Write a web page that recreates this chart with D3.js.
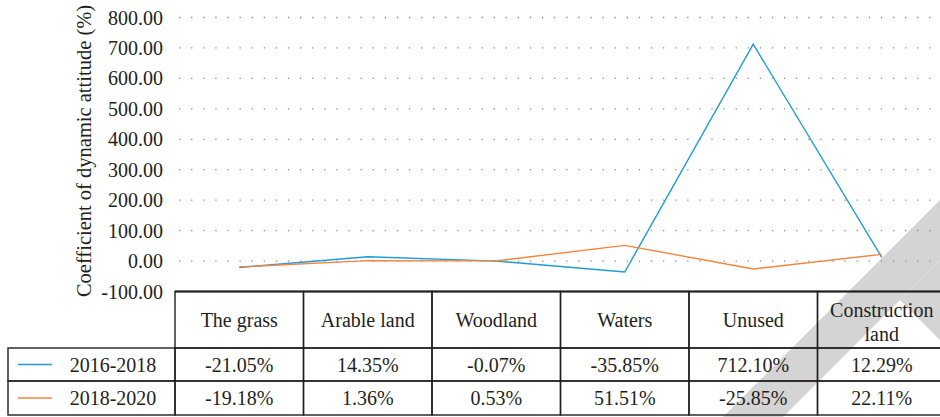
<!DOCTYPE html>
<meta charset="utf-8">
<style>
body { margin: 0; background: #fff; }
svg { display: block; font-family: "Liberation Serif", "DejaVu Serif", serif; }
.grid line { stroke: #8a8a8a; stroke-width: 1.3px; stroke-dasharray: 1.3,10.8; }
.tick-label { font-size: 20px; fill: #231f20; text-anchor: end; }
.cell { fill: none; stroke: #231f20; stroke-width: 1.4px; }
.cell-text { font-size: 20px; fill: #231f20; text-anchor: middle; }
.line { fill: none; stroke-width: 1.4px; }
.mark { fill: #d4d4d4; }
</style>
<svg width="940" height="417"></svg>
<script src="https://cdnjs.cloudflare.com/ajax/libs/d3/7.8.5/d3.min.js"></script>
<script>

// data
var categories = ["The grass", "Arable land", "Woodland", "Waters", "Unused", "Construction land"];
var seriesNames = ["2016-2018", "2018-2020"];
var values1618 = [-21.05, 14.35, -0.07, -35.85, 712.10, 12.29];
var values1820 = [-19.18, 1.36, 0.53, 51.51, -25.85, 22.11];
var yTicks = [-100, 0, 100, 200, 300, 400, 500, 600, 700, 800];
var colors = ["#1f9bd7", "#f4843a"];

var svg = d3.select("svg"),
    width = +svg.attr("width"),
    height = +svg.attr("height");

var plotLeft = 175, plotTop = 17.5, plotBottom = 291.5, plotRight = 946;
var rowLeft = 8, headerBottom = 348, row1Bottom = 381, row2Bottom = 415;

var x = d3.scaleBand().domain(categories).range([plotLeft, plotRight]);
var y = d3.scaleLinear().domain([-100, 800]).range([plotBottom, plotTop]);

// plain hyphen for negatives, as in the source
var fmt = function(v) { return d3.format(".2f")(v).replace("\u2212", "-"); };

// watermark corner
var mark = svg.append("g").attr("class", "watermark");
mark.append("path").attr("class", "mark")
    .attr("d", "M723,417 L940,200 L940,260 L783,417 Z");
mark.append("path").attr("class", "mark")
    .attr("d", "M900,300 L940,260 L940,340 Z");

// grid
svg.append("g").attr("class", "grid")
  .selectAll("line")
  .data(yTicks.filter(function(d) { return d > -100; }))
  .enter().append("line")
    .attr("x1", plotLeft + 4)
    .attr("x2", width)
    .attr("y1", function(d) { return y(d); })
    .attr("y2", function(d) { return y(d); });

// y tick labels
svg.append("g")
  .selectAll("text")
  .data(yTicks)
  .enter().append("text")
    .attr("class", "tick-label")
    .attr("x", 163)
    .attr("y", function(d) { return y(d); })
    .attr("dy", "0.35em")
    .text(fmt);

// y title
svg.append("text")
    .attr("transform", "translate(91," + 151 + ") rotate(-90)")
    .attr("text-anchor", "middle")
    .attr("font-size", "20.5px")
    .attr("fill", "#231f20")
    .text("Coefficient of dynamic attitude (%)");

// lines
var valueline = d3.line()
    .x(function(d, i) { return x(categories[i]) + x.bandwidth() / 2; })
    .y(function(d) { return y(d); });

[values1618, values1820].forEach(function(vals, i) {
  svg.append("path")
      .datum(vals)
      .attr("class", "line")
      .attr("stroke", colors[i])
      .attr("d", valueline);
});

// table
var table = svg.append("g");

// header cells
categories.forEach(function(c) {
  table.append("rect")
      .attr("class", "cell")
      .attr("x", x(c))
      .attr("y", plotBottom)
      .attr("width", x.bandwidth())
      .attr("height", headerBottom - plotBottom);
  var words = c === "Construction land" ? ["Construction", "land"] : [c];
  var cx = x(c) + x.bandwidth() / 2,
      cy = (plotBottom + headerBottom) / 2 + (words.length > 1 ? 2 : 0);
  words.forEach(function(w, j) {
    table.append("text")
        .attr("class", "cell-text")
        .attr("x", cx)
        .attr("y", cy + (j - (words.length - 1) / 2) * 24)
        .attr("dy", "0.35em")
        .text(w);
  });
});
// heavier top rule
table.append("line")
    .attr("x1", plotLeft).attr("x2", plotRight)
    .attr("y1", plotBottom).attr("y2", plotBottom)
    .attr("stroke", "#231f20").attr("stroke-width", 2);

// data rows
var rows = [
  {name: seriesNames[0], vals: values1618, top: headerBottom, bottom: row1Bottom, color: colors[0]},
  {name: seriesNames[1], vals: values1820, top: row1Bottom, bottom: row2Bottom, color: colors[1]}
];

rows.forEach(function(r) {
  var cy = (r.top + r.bottom) / 2;
  table.append("rect")
      .attr("class", "cell")
      .attr("x", rowLeft).attr("y", r.top)
      .attr("width", plotLeft - rowLeft).attr("height", r.bottom - r.top);
  table.append("line")
      .attr("x1", 18).attr("x2", 52)
      .attr("y1", cy).attr("y2", cy)
      .attr("stroke", r.color).attr("stroke-width", 1.4);
  table.append("text")
      .attr("class", "cell-text")
      .attr("x", 113).attr("y", cy)
      .attr("dy", "0.35em")
      .text(r.name);
  r.vals.forEach(function(v, i) {
    var c = categories[i];
    table.append("rect")
        .attr("class", "cell")
        .attr("x", x(c)).attr("y", r.top)
        .attr("width", x.bandwidth()).attr("height", r.bottom - r.top);
    table.append("text")
        .attr("class", "cell-text")
        .attr("x", x(c) + x.bandwidth() / 2).attr("y", cy)
        .attr("dy", "0.35em")
        .text(fmt(v) + "%");
  });
});

</script>
